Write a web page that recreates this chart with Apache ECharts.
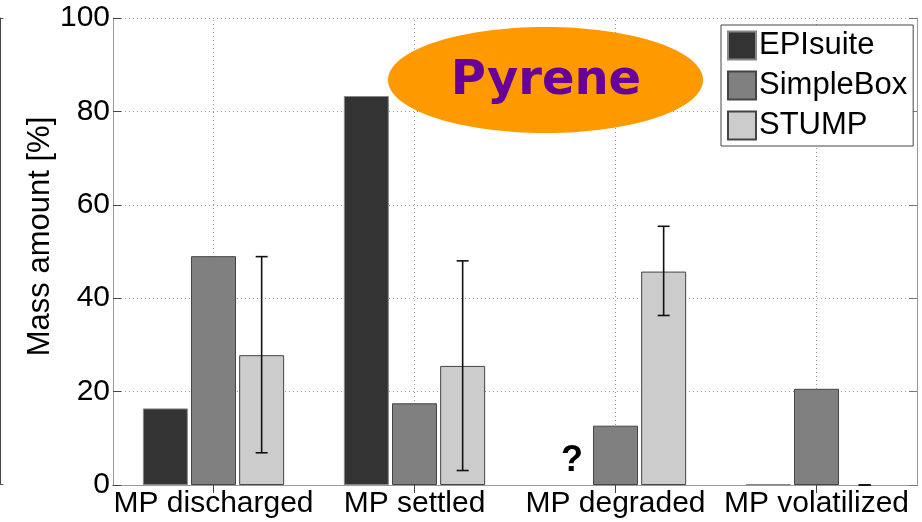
<!DOCTYPE html>
<html>
<head>
<meta charset="utf-8">
<script src="https://cdn.jsdelivr.net/npm/echarts@6/dist/echarts.min.js"></script>
<style>
html,body{margin:0;padding:0;background:#fff;}
#chart{width:922px;height:522px;}
</style>
</head>
<body>
<div id="chart"></div>
<script>
const categories = ['MP discharged', 'MP settled', 'MP degraded', 'MP volatilized'];
const seriesNames = ['EPIsuite', 'SimpleBox', 'STUMP'];
const epiSuite = [16.4, 83.3, null, 0.2];
const simpleBox = [49.0, 17.5, 12.7, 20.6];
const stump = [27.8, 25.5, 45.7, null];
const stumpLow = [6.9, 3.1, 36.3, 0];
const stumpHigh = [48.9, 48.0, 55.4, 0];
const yMin = 0, yMax = 100, yInterval = 20;
const titleText = 'Pyrene';
const unknownMark = '?';

const FONT = "'Liberation Sans', Arial, sans-serif";
const BAR_W = 45;
const BAR_GAP = 3.15;

const chart = echarts.init(document.getElementById('chart'), null, {renderer: 'canvas'});

const grid = {left: 113, right: 5, top: 18, bottom: 37};

const option = {
  animation: false,
  backgroundColor: '#fff',
  textStyle: {fontFamily: FONT},
  grid: [
    grid,
    {left: 0, width: 3, top: 18, bottom: 38}
  ],
  legend: {
    data: seriesNames,
    orient: 'vertical',
    left: 721,
    top: 25,
    itemWidth: 28,
    itemHeight: 28,
    itemGap: 9,
    padding: [5, 6, 5, 6],
    borderColor: '#444',
    borderWidth: 1,
    backgroundColor: '#fff',
    icon: 'rect',
    textStyle: {fontSize: 31, color: '#000', fontFamily: FONT, padding: [0, 0, 0, -2]},
    z: 20
  },
  xAxis: [
    {
      type: 'category', gridIndex: 0, position: 'bottom', data: categories,
      axisLine: {lineStyle: {color: '#333', width: 1}},
      axisTick: {show: true, inside: true, alignWithLabel: true, length: 8, lineStyle: {color: '#444'}},
      axisLabel: {fontSize: 30, color: '#000', margin: 4, fontFamily: FONT, interval: 0},
      splitLine: {show: false}
    },
    {
      type: 'category', gridIndex: 0, position: 'top', data: categories,
      axisLine: {lineStyle: {color: '#999', width: 1}},
      axisTick: {show: true, inside: true, alignWithLabel: true, length: 8, lineStyle: {color: '#444'}},
      axisLabel: {show: false},
      splitLine: {show: false}
    },
    {
      type: 'value', gridIndex: 1, position: 'bottom', min: 0, max: 1,
      axisLine: {show: true, onZero: false, lineStyle: {color: '#555'}},
      axisTick: {show: false}, axisLabel: {show: false}, splitLine: {show: false}
    },
    {
      type: 'value', gridIndex: 1, position: 'top', min: 0, max: 1,
      axisLine: {show: true, onZero: false, lineStyle: {color: '#555'}},
      axisTick: {show: false}, axisLabel: {show: false}, splitLine: {show: false}
    }
  ],
  yAxis: [
    {
      type: 'value', gridIndex: 0, position: 'left', min: yMin, max: yMax, interval: yInterval,
      name: 'Mass amount [%]', nameLocation: 'middle', nameGap: 57, nameMoveOverlap: false,
      nameTextStyle: {fontSize: 31, color: '#000', fontFamily: FONT, padding: [0, 0, 0, 30]},
      axisLine: {show: true, lineStyle: {color: '#999', width: 1}},
      axisTick: {show: true, inside: true, length: 8, lineStyle: {color: '#444'}},
      axisLabel: {fontSize: 30, color: '#000', margin: 3, fontFamily: FONT},
      splitLine: {show: true, lineStyle: {type: [1, 3], color: '#999', width: 1}}
    },
    {
      type: 'value', gridIndex: 0, position: 'right', min: yMin, max: yMax, interval: yInterval,
      axisLine: {show: true, lineStyle: {color: '#999', width: 1}},
      axisTick: {show: true, inside: true, length: 8, lineStyle: {color: '#777'}},
      axisLabel: {show: false},
      splitLine: {show: false}
    },
    {
      type: 'value', gridIndex: 1, position: 'right', min: yMin, max: yMax, interval: yInterval,
      axisLine: {show: true, lineStyle: {color: '#444', width: 1}},
      axisTick: {show: true, inside: true, length: 3, lineStyle: {color: '#444'}},
      axisLabel: {show: false},
      splitLine: {show: false}
    }
  ],
  series: [
    {
      name: 'gridX', type: 'line', xAxisIndex: 0, yAxisIndex: 0, data: [], silent: true,
      markLine: {
        silent: true, symbol: 'none', z: 1,
        label: {show: false},
        lineStyle: {type: [1, 3], color: '#999', width: 1},
        data: categories.map(c => ({xAxis: c}))
      }
    },
    {
      name: seriesNames[0], type: 'bar', xAxisIndex: 0, yAxisIndex: 0, data: epiSuite,
      barWidth: BAR_W, barGap: (BAR_GAP / BAR_W * 100).toFixed(1) + '%',
      itemStyle: {color: '#333333', borderColor: '#888', borderWidth: 1}
    },
    {
      name: seriesNames[1], type: 'bar', xAxisIndex: 0, yAxisIndex: 0, data: simpleBox,
      barWidth: BAR_W, barGap: (BAR_GAP / BAR_W * 100).toFixed(1) + '%',
      itemStyle: {color: '#808080', borderColor: '#444', borderWidth: 1}
    },
    {
      name: seriesNames[2], type: 'bar', xAxisIndex: 0, yAxisIndex: 0, data: stump,
      barWidth: BAR_W, barGap: (BAR_GAP / BAR_W * 100).toFixed(1) + '%',
      itemStyle: {color: '#cccccc', borderColor: '#444', borderWidth: 1}
    },
    {
      name: 'STUMP range', type: 'custom', xAxisIndex: 0, yAxisIndex: 0, z: 10,
      data: categories.map((c, i) => [i, stumpLow[i], stumpHigh[i]]),
      encode: {x: 0, y: [1, 2]},
      renderItem: function (params, api) {
        const lo = api.coord([api.value(0), api.value(1)]);
        const hi = api.coord([api.value(0), api.value(2)]);
        const x = lo[0] + BAR_W + BAR_GAP;
        const cap = 6;
        const st = {stroke: '#111', lineWidth: 1.6};
        return {
          type: 'group',
          children: [
            {type: 'line', shape: {x1: x, y1: lo[1], x2: x, y2: hi[1]}, style: st},
            {type: 'line', shape: {x1: x - cap, y1: lo[1], x2: x + cap, y2: lo[1]}, style: st},
            {type: 'line', shape: {x1: x - cap, y1: hi[1], x2: x + cap, y2: hi[1]}, style: st}
          ]
        };
      }
    }
  ],
  graphic: [
    {
      type: 'ellipse', z: 15,
      shape: {cx: 545.5, cy: 80, rx: 157.5, ry: 53},
      style: {fill: '#ff9900'}
    },
    {
      type: 'text', z: 16, x: 546, y: 82,
      style: {
        text: titleText, fill: '#660099', align: 'center', verticalAlign: 'middle',
        font: "bold 48px 'DejaVu Sans', Verdana, sans-serif"
      }
    },
    {
      type: 'text', z: 16, x: 572, y: 461,
      style: {
        text: unknownMark, fill: '#000', align: 'center', verticalAlign: 'middle',
        font: "bold 36px 'Liberation Sans', Arial, sans-serif"
      }
    }
  ]
};

chart.setOption(option);
</script>
</body>
</html>
